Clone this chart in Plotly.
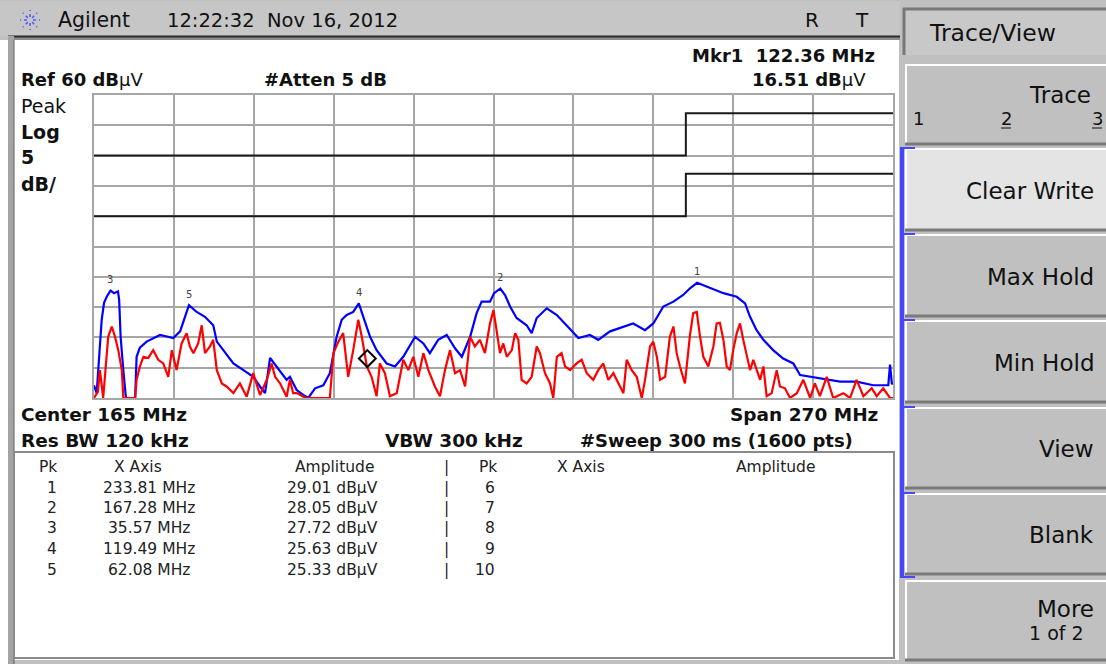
import plotly.graph_objects as go
import math

W, H = 1106, 664

# ---------------- data ----------------
blue_freq = [30.0, 30.9, 32.6, 33.4, 34.3, 35.57, 36.8, 38.1, 38.5, 39.0, 39.9, 40.8, 43.9, 44.4, 45.5,
             47.8, 52.3, 56.8, 59.1, 61.3, 62.08, 64.7, 67.5, 70.3, 71.5, 73.7, 77.1, 80.5, 83.8, 86.1,
             87.8, 89.5, 91.7, 95.1, 96.2, 97.2, 98.5, 100.7, 102.4, 104.7, 107.5, 109.7, 110.9, 112.0,
             113.7, 115.4, 117.6, 119.49, 121.0, 123.3, 125.5, 128.9, 131.7, 134.5, 138.5, 141.3, 143.5,
             146.3, 149.2, 152.0, 154.3, 157.1, 159.3, 161.0, 163.8, 165.2, 167.28, 168.9, 170.6, 172.8,
             176.2, 177.9, 179.6, 183.0, 186.4, 189.7, 193.7, 197.6, 200.4, 204.4, 208.9, 212.2, 216.2,
             219.0, 222.4, 225.8, 229.1, 231.4, 233.81, 238.2, 242.7, 247.2, 250.0, 251.7, 253.9, 256.2,
             259.5, 262.9, 266.3, 268.6, 272.0, 276.4, 282.1, 287.7, 293.3, 298.4, 299.0, 299.6, 300.0]
blue_amp = [12.1, 10.8, 22.9, 25.7, 26.7, 27.72, 27.3, 27.6, 26.2, 20.1, 14.6, 10.0, 10.0, 16.8, 18.3,
            19.3, 20.4, 19.9, 21.0, 24.5, 25.33, 24.2, 23.4, 22.0, 19.3, 17.9, 15.7, 14.6, 13.5, 11.9,
            10.8, 16.6, 15.2, 13.0, 13.5, 12.5, 11.3, 10.5, 10.0, 11.6, 12.1, 14.1, 17.4, 20.1,
            22.9, 23.7, 24.2, 25.63, 23.4, 20.1, 17.9, 15.7, 15.2, 16.8, 20.1, 19.0, 17.4,
            19.6, 20.4, 18.2, 16.8, 20.1, 24.0, 25.9, 25.9, 27.3, 28.05, 27.0, 25.1, 23.2,
            22.0, 20.7, 23.2, 24.8, 23.7, 22.0, 19.9, 20.4, 19.6, 21.0, 21.8, 22.3, 21.2,
            22.3, 25.1, 25.9, 27.0, 28.1, 29.01, 28.1, 27.3, 26.7, 25.6, 23.4, 21.2, 19.6,
            17.9, 16.5, 15.7, 13.8, 13.5, 13.2, 12.7, 12.7, 12.1, 12.1, 15.5, 12.4, 12.3]

red_freq = [30.0, 31.3, 32.0, 33.1, 34.8, 36.0, 37.1, 38.2, 39.4, 39.9, 43.9, 44.4, 45.5, 46.7, 48.3,
            50.0, 51.7, 53.4, 55.1, 56.3, 57.9, 59.6, 61.3, 62.4, 63.6, 65.2, 66.4, 67.5, 69.2, 70.3,
            71.5, 73.2, 74.8, 77.1, 79.3, 81.6, 83.8, 86.1, 88.4, 90.0, 91.2, 92.9, 95.1, 96.2, 97.3,
            98.5, 101.6, 109.7, 110.9, 112.6, 114.2, 115.9, 117.6, 119.3, 120.5, 122.2, 123.8, 125.5,
            126.6, 128.3, 130.0, 132.3, 134.5, 136.2, 137.9, 139.6, 141.3, 143.0, 145.2, 146.9, 148.6,
            150.3, 152.0, 153.7, 155.4, 157.1, 158.7, 160.4, 162.1, 163.8, 165.0, 166.1, 167.2, 168.3,
            169.5, 171.2, 172.3, 173.4, 174.5, 176.2, 177.9, 179.6, 180.7, 182.4, 184.1, 185.2, 186.4,
            188.0, 189.2, 190.9, 193.1, 194.8, 196.5, 198.7, 200.4, 202.1, 203.8, 205.5, 207.2, 208.9,
            210.0, 211.7, 213.4, 215.1, 216.2, 217.9, 219.0, 220.2, 221.3, 223.0, 224.6, 225.8, 226.9,
            228.0, 229.7, 231.4, 232.5, 233.7, 234.8, 235.9, 237.6, 239.3, 240.4, 241.5, 242.7, 243.8,
            244.9, 246.0, 247.2, 248.3, 249.4, 250.6, 251.7, 252.8, 253.9, 255.1, 256.2, 257.3, 259.0,
            260.7, 261.8, 263.5, 265.2, 267.5, 269.7, 272.0, 273.6, 275.3, 277.6, 279.8, 283.2, 285.5,
            287.7, 290.0, 292.8, 294.5, 296.7, 299.0, 300.0]
red_amp = [10.0, 11.0, 14.6, 10.0, 20.1, 21.8, 20.1, 17.9, 14.6, 10.0, 10.0, 13.0, 15.2, 16.8, 16.6,
           17.9, 16.3, 15.7, 13.5, 17.9, 14.6, 19.0, 20.7, 18.5, 17.4, 19.0, 22.0, 17.4, 18.5, 19.6,
           14.6, 12.4, 11.9, 10.8, 12.4, 10.2, 14.1, 10.5, 13.0, 15.7, 13.5, 12.4, 10.2, 13.0, 10.8,
           10.8, 10.0, 10.0, 17.4, 19.3, 20.7, 13.5, 17.9, 22.9, 20.1, 15.2, 13.5, 10.3,
           15.7, 14.1, 10.3, 10.8, 16.3, 14.6, 16.8, 13.5, 17.4, 14.6, 11.9, 10.3, 14.6,
           17.9, 14.1, 14.6, 11.9, 20.1, 18.5, 19.6, 17.4, 22.3, 24.5, 21.0, 17.4, 19.0,
           16.8, 17.9, 20.7, 19.6, 13.0, 12.4, 13.5, 18.5, 17.4, 14.1, 12.4, 10.0, 16.8,
           17.4, 15.2, 14.6, 15.7, 16.3, 14.1, 13.0, 14.6, 15.7, 13.0, 14.1, 12.4, 10.8,
           16.3, 14.6, 13.5, 10.0, 13.0, 18.5, 19.3, 16.8, 13.0, 13.5, 20.1, 21.8, 17.4,
           15.2, 12.4, 20.4, 24.0, 24.2, 20.1, 16.8, 15.2, 18.5, 22.3, 22.4, 19.6, 15.2,
           14.6, 17.9, 20.7, 22.3, 19.6, 16.8, 14.6, 16.3, 14.6, 13.0, 15.2, 10.3, 10.8,
           14.6, 11.9, 11.6, 10.0, 10.8, 13.0, 10.0, 12.4, 10.3, 13.5, 10.0, 10.8, 10.0,
           13.0, 10.3, 11.6, 10.3, 11.6, 10.0, 10.0]

limit_freq = [30, 230, 230, 300]
limit_class_b = [40, 40, 47, 47]
limit_class_a = [50, 50, 57, 57]

peak_no = [1, 2, 3, 4, 5]
peak_freq = [233.81, 167.28, 35.57, 119.49, 62.08]
peak_amp = [29.01, 28.05, 27.72, 25.63, 25.33]
peak_no_right = [6, 7, 8, 9, 10]

mkr_freq = [122.36]
mkr_amp = [16.51]

f_start, f_stop = 30, 300
ref_level, db_per_div, n_div = 60, 5, 10

softkey_labels = ["Clear Write", "Max Hold", "Min Hold", "View", "Blank"]

# ---------------- helpers ----------------
FONT = "DejaVu Sans"
INK = "#111111"


def X(px):
    return px / W


def Y(py):
    return 1 - py / H


shapes = []
annotations = []


def rect(x0, y0, x1, y1, fill, line_color=None, lw=0):
    shapes.append(dict(type="rect", xref="paper", yref="paper", x0=X(x0), x1=X(x1), y0=Y(y1), y1=Y(y0),
                       fillcolor=fill, line=dict(color=line_color or fill, width=lw), layer="below"))


def seg(x0, y0, x1, y1, color, lw=1, dash=None, layer="below"):
    ln = dict(color=color, width=lw)
    if dash:
        ln["dash"] = dash
    shapes.append(dict(type="line", xref="paper", yref="paper", x0=X(x0), x1=X(x1), y0=Y(y0), y1=Y(y1),
                       line=ln, layer=layer))


def txt(s, px, py, size=16, anchor="left", color=INK, bold=False):
    annotations.append(dict(text=("<b>%s</b>" % s) if bold else s, xref="paper", yref="paper",
                            x=X(px), y=Y(py), xanchor=anchor, yanchor="middle", showarrow=False,
                            font=dict(family=FONT, size=size, color=color)))


# ---------------- screen chrome ----------------
rect(0, 0, W, H, "#c0c0c0")
rect(0, 40, 8, 664, "#ffffff")
rect(14, 40, 899, 660, "#ffffff")
rect(0, 1, 900, 36, "#c6c6c6")
rect(8, 36, 900, 40, "#8c8c8c")
seg(8, 36.5, 900, 36.5, "#2a2a2a", 2)
rect(8, 36, 14, 664, "#a4a4a4")
seg(14, 40, 14, 664, "#606060", 1)

# Agilent logo
for k in range(8):
    a = k * math.pi / 4
    seg(30 + 3 * math.cos(a), 20 - 3 * math.sin(a), 30 + 10 * math.cos(a), 20 - 10 * math.sin(a),
        "#5a5aff", 1.6, "dot")

txt("Agilent", 56, 20, 20.5)
txt("12:22:32&nbsp;&nbsp;Nov 16, 2012", 165, 20, 19.5)
txt("R", 812, 20, 20, "center")
txt("T", 862, 20, 20, "center")

# soft keys
rect(903, 8, 1106, 55, "#c8c8c8")
seg(903, 9, 1106, 9, "#787878", 3)
seg(904, 8, 904, 55, "#787878", 3)
txt("Trace/View", 927, 33, 23.5)

btn_rows = [(64, 145), (148, 231), (234, 317), (320, 403), (407, 489), (493, 575), (580, 661)]
for i, (y0, y1) in enumerate(btn_rows):
    fill = "#e4e4e4" if i == 1 else "#c0c0c0"
    rect(905, y0, 1106, y1, fill)
    seg(905, y0 + 1, 1106, y0 + 1, "#ffffff", 2)
    seg(906, y0, 906, y1, "#ffffff", 2)
    seg(905, y1 - 1, 1106, y1 - 1, "#7a7a7a", 3)

# blue bracket for the trace-mode keys
seg(902, 148, 902, 577, "#4646ff", 4)
for yb in [148, 234, 320, 407, 493, 577]:
    seg(900, yb, 915, yb, "#4646ff", 2)

txt("Trace", 1093, 95, 23, "right")
txt("1", 911, 118, 18)
txt("2", 1006, 118, 18, "center")
txt("3", 1097, 118, 18, "center")
seg(1001, 128, 1011, 128, INK, 1)
seg(1092, 128, 1102, 128, INK, 1)
for lbl, (y0, y1) in zip(softkey_labels, btn_rows[1:6]):
    txt(lbl, 1096, (y0 + y1) / 2 + 1, 23, "right")
txt("More", 1096, 609, 23, "right")
txt("1 of 2", 1086, 633, 19, "right")

# header annotations
mu = "μV"
txt("Mkr1&nbsp;&nbsp;122.36 MHz", 877, 56, 18, "right", bold=True)
txt("<b>%.2f dB</b>%s" % (mkr_amp[0], mu), 868, 79, 18, "right")
txt("<b>Ref %d dB</b>%s" % (ref_level, mu), 19, 79, 18)
txt("#Atten 5 dB", 262, 79, 18, bold=True)
txt("Peak", 19, 106, 19)
txt("Log", 19, 132, 19, bold=True)
txt("%d" % db_per_div, 19, 157, 19, bold=True)
txt("dB/", 19, 184, 19, bold=True)

txt("Center %d MHz" % ((f_start + f_stop) // 2), 19, 414, 18.5, bold=True)
txt("Span %d MHz" % (f_stop - f_start), 880, 414, 18.5, "right", bold=True)
txt("Res BW 120 kHz", 19, 440, 18.5, bold=True)
txt("VBW 300 kHz", 383, 440, 18.5, bold=True)
txt("#Sweep 300 ms (1600 pts)", 578, 440, 18, bold=True)

# peak table
rect(14, 452, 894, 658, "#ffffff", "#8a8a8a", 2)
TS = 15.5
TC = "#222222"
hy = 467
txt("Pk", 48, hy, TS, "center", TC)
txt("X Axis", 138, hy, TS, "center", TC)
txt("Amplitude", 334, hy, TS, "center", TC)
txt("|", 446, hy, TS, "center", TC)
txt("Pk", 488, hy, TS, "center", TC)
txt("X Axis", 581, hy, TS, "center", TC)
txt("Amplitude", 776, hy, TS, "center", TC)
row_y = [488, 508, 528, 549, 570]
for n, f, a, n2, ry in zip(peak_no, peak_freq, peak_amp, peak_no_right, row_y):
    txt("%d" % n, 52, ry, TS, "center", TC)
    txt("%.2f MHz" % f, 149, ry, TS, "center", TC)
    txt("%.2f dB%s" % (a, "μV"), 332, ry, TS, "center", TC)
    txt("|", 446, ry, TS, "center", TC)
    txt("%d" % n2, 497, ry, TS, "right", TC)

# ---------------- traces ----------------
fig = go.Figure()
fig.add_trace(go.Scatter(x=limit_freq, y=limit_class_a, mode="lines",
                         line=dict(color="#1a1a1a", width=2), hoverinfo="skip"))
fig.add_trace(go.Scatter(x=limit_freq, y=limit_class_b, mode="lines",
                         line=dict(color="#1a1a1a", width=2), hoverinfo="skip"))
fig.add_trace(go.Scatter(x=blue_freq, y=blue_amp, mode="lines",
                         line=dict(color="#0000ff", width=2.2), hoverinfo="skip"))
fig.add_trace(go.Scatter(x=red_freq, y=red_amp, mode="lines",
                         line=dict(color="#ff0000", width=2.2), hoverinfo="skip"))
fig.add_trace(go.Scatter(x=mkr_freq, y=mkr_amp, mode="markers",
                         marker=dict(symbol="diamond-open", size=13, color="#000000",
                                     line=dict(width=2, color="#000000")), hoverinfo="skip"))

for n, f, a in zip(peak_no, peak_freq, peak_amp):
    annotations.append(dict(text=str(n), x=f, y=a, xref="x", yref="y", showarrow=False, yshift=11,
                            font=dict(family=FONT, size=10, color="#444444")))

bottom = ref_level - db_per_div * n_div
fig.update_layout(
    width=W, height=H, margin=dict(l=0, r=0, t=0, b=0), autosize=False,
    paper_bgcolor="#ffffff", plot_bgcolor="rgba(0,0,0,0)", showlegend=False,
    xaxis=dict(domain=[X(94), X(893)], range=[f_start, f_stop], dtick=(f_stop - f_start) / n_div,
               tick0=f_start, showgrid=True, gridcolor="#a6a6a6", gridwidth=2, showticklabels=False,
               ticks="", zeroline=False, showline=True, mirror=True, linecolor="#a6a6a6", linewidth=2,
               fixedrange=True),
    yaxis=dict(domain=[Y(398), Y(95)], range=[bottom, ref_level], dtick=db_per_div, tick0=bottom,
               showgrid=True, gridcolor="#a6a6a6", gridwidth=2, showticklabels=False, ticks="",
               zeroline=False, showline=True, mirror=True, linecolor="#a6a6a6", linewidth=2,
               fixedrange=True),
    shapes=shapes, annotations=annotations,
)

fig.write_html("out.html", config={"displayModeBar": False},
               post_script="document.body.style.margin='0';document.body.style.overflow='hidden';")
